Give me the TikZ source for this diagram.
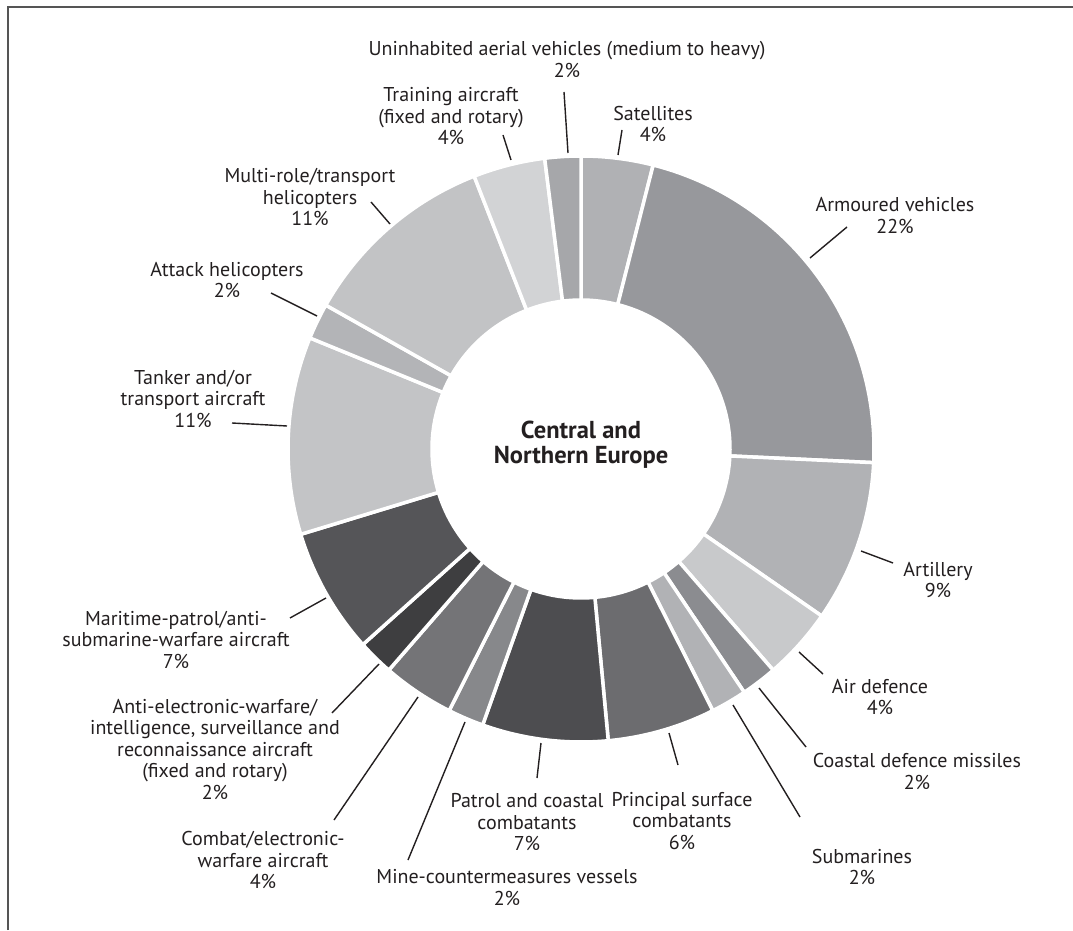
\documentclass[tikz,border=0pt]{standalone}
\usepackage{fontspec}
\setmainfont{PT Sans}
\definecolor{txt}{HTML}{231F20}
\definecolor{frame}{HTML}{555555}
\definecolor{cSat}{HTML}{B0B1B4}
\definecolor{cArm}{HTML}{97989C}
\definecolor{cArt}{HTML}{B1B2B5}
\definecolor{cAD}{HTML}{C8C9CB}
\definecolor{cCD}{HTML}{8B8C90}
\definecolor{cSub}{HTML}{B1B2B5}
\definecolor{cPSC}{HTML}{6C6C6F}
\definecolor{cPat}{HTML}{4D4D50}
\definecolor{cMine}{HTML}{87888B}
\definecolor{cCmb}{HTML}{747477}
\definecolor{cAEW}{HTML}{3E3E40}
\definecolor{cMar}{HTML}{555558}
\definecolor{cTank}{HTML}{C3C4C6}
\definecolor{cAtt}{HTML}{B3B4B7}
\definecolor{cMul}{HTML}{C2C3C5}
\definecolor{cTrn}{HTML}{D2D3D5}
\definecolor{cUAV}{HTML}{A6A7AA}
\begin{document}
\begin{tikzpicture}[x=1pt,y=1pt,
  lbl/.style={font=\fontsize{20}{21.5}\selectfont, align=center, inner sep=0pt, text=txt},
  leader/.style={draw=txt, line width=1.4pt},
  seg/.style={fill=#1, draw=white, line width=3.5pt, line join=miter}]
\useasboundingbox (0,0) rectangle (1073,930);
% frame
\draw[frame, line width=2pt] (8,0) -- (8,923) -- (1073,923);
% donut
\begin{scope}[shift={(581,481)}]
\foreach \a/\b/\c in {90/75.74/cSat, 75.74/-2.67/cArm, -2.67/-34.75/cArt,
  -34.75/-49.01/cAD, -49.01/-56.14/cCD, -56.14/-63.27/cSub, -63.27/-84.66/cPSC,
  -84.66/-109.61/cPat, -109.61/-116.74/cMine, -116.74/-131.00/cCmb,
  -131.00/-138.12/cAEW, -138.12/-163.07/cMar, -163.07/-202.28/cTank,
  -202.28/-209.41/cAtt, -209.41/-248.61/cMul, -248.61/-262.87/cTrn,
  -262.87/-270/cUAV}{
  \path[seg=\c] (\a:293) arc[start angle=\a, end angle=\b, radius=293]
    -- (\b:149) arc[start angle=\b, end angle=\a, radius=149] -- cycle;
}
\end{scope}
\node[lbl, font=\fontsize{24.5}{25}\selectfont\bfseries] (title) at (581,485) {Central and\\Northern Europe};
% labels
\node[lbl] (uav) at (567,870.5) {Uninhabited aerial vehicles (medium to heavy)\\2\%};
\node[lbl] (trn) at (451,813.5) {Training aircraft\\(fixed and rotary)\\4\%};
\node[lbl] (sat) at (653,806) {Satellites\\4\%};
\node[lbl] (arm) at (895,714.5) {Armoured vehicles\\22\%};
\node[lbl] (art) at (938,350) {Artillery\\9\%};
\node[lbl] (ad) at (880,233) {Air defence\\4\%};
\node[lbl] (cd) at (917,158.5) {Coastal defence missiles\\2\%};
\node[lbl] (sub) at (862,63) {Submarines\\2\%};
\node[lbl] (psc) at (682,109) {Principal surface\\combatants\\6\%};
\node[lbl] (pat) at (527,107.5) {Patrol and coastal\\combatants\\7\%};
\node[lbl] (mine) at (507,42.5) {Mine-countermeasures vessels\\2\%};
\node[lbl] (cmb) at (263,70) {Combat/electronic-\\warfare aircraft\\4\%};
\node[lbl] (aew) at (215,181) {Anti-electronic-warfare/\\intelligence, surveillance and\\reconnaissance aircraft\\(fixed and rotary)\\2\%};
\node[lbl] (mar) at (176,290.5) {Maritime-patrol/anti-\\submarine-warfare aircraft\\7\%};
\node[lbl] (tank) at (193,531) {Tanker and/or\\transport aircraft\\11\%};
\node[lbl] (att) at (227,650) {Attack helicopters\\2\%};
\node[lbl] (mul) at (310,732.5) {Multi-role/transport\\helicopters\\11\%};
% leader coordinates
\coordinate (uav-o) at (564,838); \coordinate (uav-i) at (568,777);
\coordinate (trn-o) at (503,795); \coordinate (trn-i) at (511,770);
\coordinate (sat-o) at (622,800); \coordinate (sat-i) at (618,775);
\coordinate (arm-o) at (847,703); \coordinate (arm-i) at (810,672);
\coordinate (art-o) at (893,367); \coordinate (art-i) at (861,379);
\coordinate (ad-o) at (823,256); \coordinate (ad-i) at (799,278);
\coordinate (cd-o) at (806,183); \coordinate (cd-i) at (759,242);
\coordinate (sub-o) at (800,113); \coordinate (sub-i) at (733,225);
\coordinate (psc-o) at (678,165); \coordinate (psc-i) at (669,197);
\coordinate (pat-o) at (537,152); \coordinate (pat-i) at (541,187);
\coordinate (mine-o) at (408,70); \coordinate (mine-i) at (465,208);
\coordinate (cmb-o) at (334,110); \coordinate (cmb-i) at (418,233);
\coordinate (aew-o) at (332,217); \coordinate (aew-i) at (379,266);
\coordinate (mar-o) at (290,312); \coordinate (mar-i) at (326,332);
\coordinate (tank-o) at (232,507); \coordinate (tank-i) at (287,504);
\coordinate (att-o) at (271,637); \coordinate (att-i) at (317,614);
\coordinate (mul-o) at (371,728); \coordinate (mul-i) at (390,706);
\foreach \n in {uav,trn,sat,arm,art,ad,cd,sub,psc,pat,mine,cmb,aew,mar,tank,att,mul}
  \draw[leader] (\n-o) -- (\n-i);
\end{tikzpicture}
\end{document}
